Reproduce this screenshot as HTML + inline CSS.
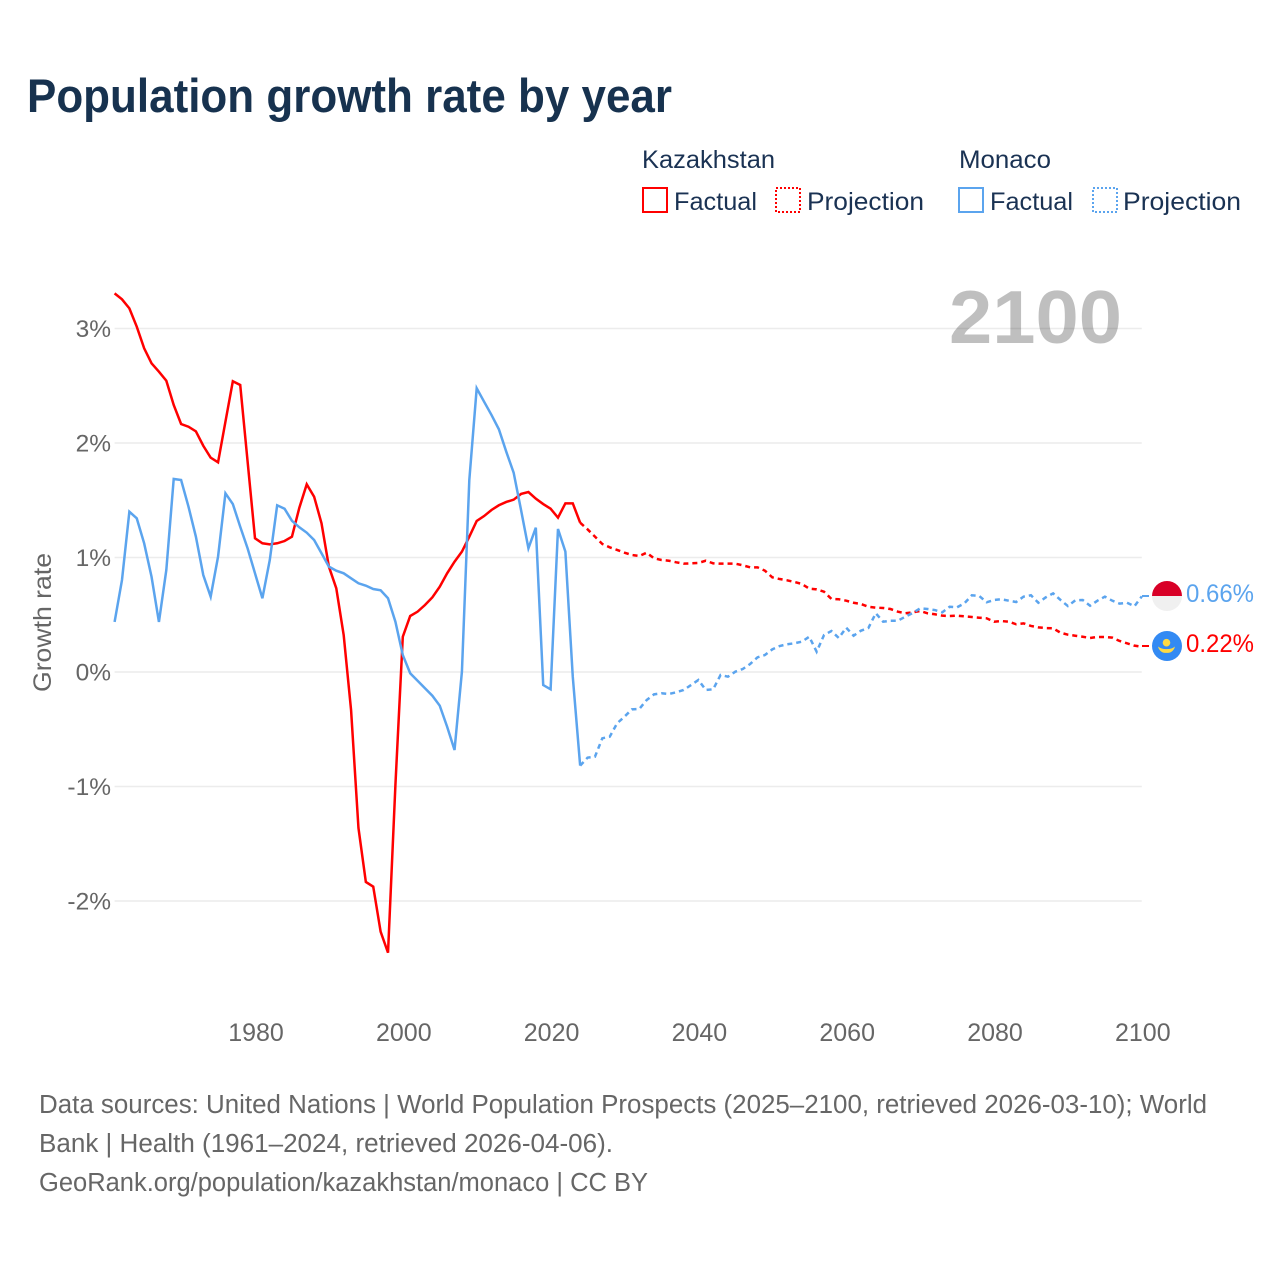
<!DOCTYPE html>
<html lang="en">
<head>
<meta charset="utf-8">
<title>Population growth rate by year</title>
<style>
html,body{margin:0;padding:0;background:#fff;}
svg{display:block;font-family:"Liberation Sans",sans-serif;}
</style>
</head>
<body>
<svg id="chart" xmlns="http://www.w3.org/2000/svg" width="1280" height="1280" viewBox="0 0 1280 1280">
  <rect width="1280" height="1280" fill="#fff"/>
  <text x="27" y="112" font-size="47" font-weight="700" fill="#17324f" textLength="645" lengthAdjust="spacingAndGlyphs">Population growth rate by year</text>

  <g font-size="25" fill="#1a3253">
    <text x="642" y="168" textLength="133" lengthAdjust="spacingAndGlyphs">Kazakhstan</text>
    <text x="959" y="168" textLength="92" lengthAdjust="spacingAndGlyphs">Monaco</text>
    <rect x="643" y="188" width="24" height="24" fill="none" stroke="#ff0000" stroke-width="2"/>
    <text x="674" y="210" textLength="83" lengthAdjust="spacingAndGlyphs">Factual</text>
    <rect x="776" y="188" width="24" height="24" fill="none" stroke="#ff0000" stroke-width="2" stroke-dasharray="2 2"/>
    <text x="807" y="210" textLength="117" lengthAdjust="spacingAndGlyphs">Projection</text>
    <rect x="959" y="188" width="24" height="24" fill="none" stroke="#5ba4ee" stroke-width="2"/>
    <text x="990" y="210" textLength="83" lengthAdjust="spacingAndGlyphs">Factual</text>
    <rect x="1093" y="188" width="24" height="24" fill="none" stroke="#5ba4ee" stroke-width="2" stroke-dasharray="2 2"/>
    <text x="1123" y="210" textLength="118" lengthAdjust="spacingAndGlyphs">Projection</text>
  </g>

  <g id="grid"></g>
  <text x="949" y="343" font-size="75" font-weight="700" fill="#000" fill-opacity="0.25" textLength="173" lengthAdjust="spacingAndGlyphs">2100</text>
  <g id="y-ticks" font-size="24.5" fill="#666"></g>
  <g id="x-ticks" font-size="25" fill="#666"></g>
  <text transform="translate(51,692) rotate(-90)" font-size="25" fill="#666" textLength="139" lengthAdjust="spacingAndGlyphs">Growth rate</text>
  <g id="series"></g>

  <g>
    <line x1="1142" x2="1149" y1="596" y2="596" stroke="#5ba4ee" stroke-width="2"/>
    <line x1="1142" x2="1149" y1="646" y2="646" stroke="#ff0000" stroke-width="2"/>
    <g>
      <path d="M1152 596a15 15 0 0 1 30 0z" fill="#d80027"/>
      <path d="M1152 596a15 15 0 0 0 30 0z" fill="#f0f0f0"/>
    </g>
    <g>
      <circle cx="1167" cy="646" r="15" fill="#338af3"/>
      <circle cx="1166.5" cy="642.7" r="3.8" fill="#ffda44"/>
      <path d="M1158 646.5c2.2 1.8 5 2.6 8.5 2.6s6.5-.8 8.5-2.6c-.8 3.6-3.6 6.2-7 6.4h-3c-3.4-.2-6.200-2.800-7-6.400z" fill="#ffda44"/>
    </g>
    <text x="1186" y="602" font-size="25" fill="#5ba4ee" textLength="68" lengthAdjust="spacingAndGlyphs">0.66%</text>
    <text x="1186" y="652" font-size="25" fill="#ff0000" textLength="68" lengthAdjust="spacingAndGlyphs">0.22%</text>
  </g>

  <g font-size="25.5" fill="#666">
    <text x="39" y="1113" textLength="1168" lengthAdjust="spacingAndGlyphs">Data sources: United Nations | World Population Prospects (2025–2100, retrieved 2026-03-10); World</text>
    <text x="39" y="1152" textLength="574" lengthAdjust="spacingAndGlyphs">Bank | Health (1961–2024, retrieved 2026-04-06).</text>
    <text x="39" y="1191" textLength="609" lengthAdjust="spacingAndGlyphs">GeoRank.org/population/kazakhstan/monaco | CC BY</text>
  </g>
</svg>
<script>
const factualStartYear = 1961;
const projectionStartYear = 2024;
const yTickValues = [3, 2, 1, 0, -1, -2];
const yTickLabels = ['3%', '2%', '1%', '0%', '-1%', '-2%'];
const xTickYears = [1980, 2000, 2020, 2040, 2060, 2080, 2100];
const kazakhstanFactual = [3.307,3.255,3.176,3.016,2.827,2.696,2.623,2.544,2.332,2.166,2.142,2.102,1.976,1.872,1.831,2.186,2.539,2.507,1.837,1.168,1.124,1.115,1.124,1.144,1.182,1.435,1.639,1.531,1.299,0.920,0.731,0.323,-0.332,-1.362,-1.834,-1.875,-2.268,-2.452,-0.987,0.308,0.489,0.527,0.585,0.652,0.745,0.862,0.963,1.051,1.182,1.319,1.362,1.415,1.456,1.485,1.505,1.555,1.572,1.514,1.467,1.426,1.348,1.473,1.473,1.304];
const monacoFactual = [0.437,0.803,1.400,1.342,1.124,0.832,0.437,0.891,1.686,1.677,1.444,1.182,0.847,0.658,1.007,1.561,1.467,1.269,1.080,0.862,0.644,0.978,1.456,1.426,1.321,1.264,1.217,1.153,1.037,0.920,0.885,0.862,0.818,0.775,0.754,0.725,0.714,0.644,0.439,0.148,-0.011,-0.076,-0.142,-0.207,-0.294,-0.478,-0.681,0.003,1.677,2.478,2.361,2.245,2.120,1.924,1.741,1.415,1.080,1.260,-0.114,-0.151,1.249,1.051,-0.041,-0.818];
const kazakhstanProjection = [1.304,1.246,1.182,1.118,1.089,1.066,1.042,1.022,1.013,1.042,0.993,0.978,0.972,0.958,0.946,0.949,0.952,0.972,0.949,0.946,0.946,0.946,0.932,0.914,0.914,0.885,0.827,0.812,0.801,0.786,0.769,0.728,0.722,0.701,0.638,0.635,0.623,0.605,0.594,0.570,0.562,0.559,0.550,0.527,0.513,0.521,0.533,0.513,0.504,0.492,0.489,0.492,0.486,0.480,0.474,0.469,0.439,0.445,0.439,0.417,0.425,0.402,0.390,0.384,0.382,0.343,0.326,0.317,0.308,0.297,0.306,0.306,0.300,0.271,0.251,0.230,0.220];
const monacoProjection = [-0.818,-0.748,-0.740,-0.579,-0.565,-0.448,-0.390,-0.326,-0.323,-0.245,-0.195,-0.186,-0.192,-0.177,-0.157,-0.114,-0.070,-0.157,-0.151,-0.026,-0.041,0.003,0.026,0.070,0.128,0.148,0.198,0.227,0.242,0.251,0.265,0.308,0.177,0.323,0.358,0.297,0.387,0.317,0.361,0.384,0.513,0.439,0.448,0.448,0.483,0.515,0.556,0.550,0.541,0.521,0.570,0.565,0.600,0.670,0.664,0.609,0.629,0.635,0.623,0.611,0.658,0.670,0.605,0.652,0.687,0.629,0.576,0.626,0.629,0.579,0.623,0.658,0.623,0.597,0.605,0.574,0.660];

const svgNS = 'http://www.w3.org/2000/svg';
function xScale(year) { return 255 + (year - 1980) * 7.39; }
function yScale(value) { return 672 - value * 114.5; }

function linePath(values, startYear) {
  return values.map(function (v, i) {
    return (i ? 'L' : 'M') + xScale(startYear + i).toFixed(2) + ' ' + yScale(v).toFixed(2);
  }).join('');
}

const gridGroup = document.getElementById('grid');
const yTickGroup = document.getElementById('y-ticks');
yTickValues.forEach(function (v, i) {
  const gridLine = document.createElementNS(svgNS, 'line');
  
  
  gridLine.setAttribute('x1', xScale(1961));
  gridLine.setAttribute('x2', xScale(2100));
  gridLine.setAttribute('y1', yScale(v));
  gridLine.setAttribute('y2', yScale(v));
  gridLine.setAttribute('stroke', '#ececec');
  gridLine.setAttribute('stroke-width', '1.5');
  gridGroup.appendChild(gridLine);

  const label = document.createElementNS(svgNS, 'text');
  
  
  label.setAttribute('x', 111);
  label.setAttribute('y', yScale(v) + 8.5);
  label.setAttribute('text-anchor', 'end');
  label.textContent = yTickLabels[i];
  yTickGroup.appendChild(label);
});

const xTickGroup = document.getElementById('x-ticks');
xTickYears.forEach(function (year) {
  const label = document.createElementNS(svgNS, 'text');
  
  
  label.setAttribute('x', xScale(year) + 1);
  label.setAttribute('y', 1041);
  label.setAttribute('text-anchor', 'middle');
  label.textContent = year;
  xTickGroup.appendChild(label);
});

const seriesGroup = document.getElementById('series');

const kazFactualLine = document.createElementNS(svgNS, 'path');


kazFactualLine.setAttribute('d', linePath(kazakhstanFactual, factualStartYear));
kazFactualLine.setAttribute('fill', 'none');
kazFactualLine.setAttribute('stroke', '#ff0000');
kazFactualLine.setAttribute('stroke-width', '2.5');
seriesGroup.appendChild(kazFactualLine);

const kazProjectionLine = document.createElementNS(svgNS, 'path');


kazProjectionLine.setAttribute('d', linePath(kazakhstanProjection, projectionStartYear));
kazProjectionLine.setAttribute('fill', 'none');
kazProjectionLine.setAttribute('stroke', '#ff0000');
kazProjectionLine.setAttribute('stroke-width', '2.5');
kazProjectionLine.setAttribute('stroke-dasharray', '5 4');
seriesGroup.appendChild(kazProjectionLine);

const monacoFactualLine = document.createElementNS(svgNS, 'path');


monacoFactualLine.setAttribute('d', linePath(monacoFactual, factualStartYear));
monacoFactualLine.setAttribute('fill', 'none');
monacoFactualLine.setAttribute('stroke', '#5ba4ee');
monacoFactualLine.setAttribute('stroke-width', '2.5');
seriesGroup.appendChild(monacoFactualLine);

const monacoProjectionLine = document.createElementNS(svgNS, 'path');


monacoProjectionLine.setAttribute('d', linePath(monacoProjection, projectionStartYear));
monacoProjectionLine.setAttribute('fill', 'none');
monacoProjectionLine.setAttribute('stroke', '#5ba4ee');
monacoProjectionLine.setAttribute('stroke-width', '2.5');
monacoProjectionLine.setAttribute('stroke-dasharray', '5 4');
seriesGroup.appendChild(monacoProjectionLine);
</script>
</body>
</html>
